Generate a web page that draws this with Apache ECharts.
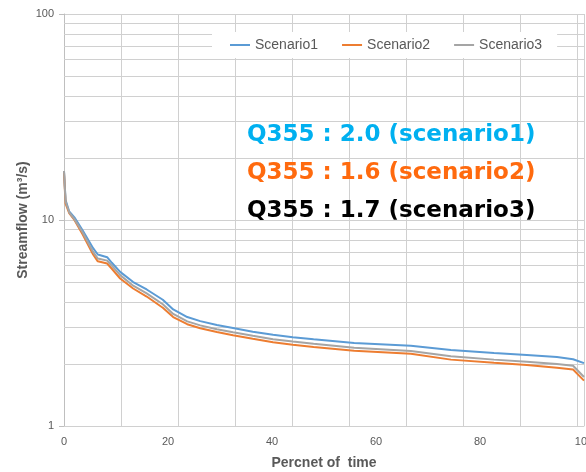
<!DOCTYPE html>
<html><head><meta charset="utf-8">
<script src="https://cdn.jsdelivr.net/npm/echarts@6/dist/echarts.min.js"></script>
<style>html,body{margin:0;padding:0;background:#fff}#c{width:586px;height:472px}</style>
</head><body><div id="c"></div>
<script>
var percent = [0, 0.3, 1, 2, 3.6, 5.6, 6.5, 8.3, 9.2, 10.8, 13.3, 15.9, 19, 21, 23.7, 26.2, 29.4, 32.5, 36.3, 40.2, 44, 48, 55.8, 66.7, 74.4, 82.7, 89, 94.8, 97.9, 100];
var scenario1 = [17.3, 12.5, 11.0, 10.3, 8.9, 7.3, 6.8, 6.6, 6.2, 5.6, 5.0, 4.6, 4.1, 3.68, 3.38, 3.23, 3.09, 2.99, 2.87, 2.77, 2.70, 2.64, 2.53, 2.45, 2.34, 2.26, 2.21, 2.16, 2.11, 2.02];
var scenario2 = [17.0, 12.0, 10.8, 10.0, 8.5, 6.8, 6.3, 6.15, 5.8, 5.2, 4.65, 4.25, 3.75, 3.38, 3.12, 2.98, 2.86, 2.76, 2.65, 2.55, 2.48, 2.42, 2.32, 2.24, 2.10, 2.03, 1.98, 1.92, 1.88, 1.66];
var scenario3 = [17.3, 12.3, 10.9, 10.1, 8.7, 7.0, 6.5, 6.35, 6.0, 5.4, 4.8, 4.4, 3.9, 3.5, 3.22, 3.08, 2.95, 2.85, 2.74, 2.64, 2.57, 2.51, 2.40, 2.31, 2.18, 2.10, 2.05, 2.00, 1.96, 1.73];
var seriesNames = ['Scenario1', 'Scenario2', 'Scenario3'];
var minorY = [2, 3, 4, 5, 6, 7, 8, 9, 20, 30, 40, 50, 60, 70, 80, 90];
var notes = ['Q355 : 2.0 (scenario1)', 'Q355 : 1.6 (scenario2)', 'Q355 : 1.7 (scenario3)'];

function pairs(vals){ return percent.map(function(p,i){ return [p, vals[i]]; }); }

var gridColor = '#d0d0d0';
var noteFont = 'bold 23px "DejaVu Sans"';
var chart = echarts.init(document.getElementById('c'), null, {renderer:'canvas'});
chart.setOption({
  animation: false,
  backgroundColor: '#fff',
  textStyle: {fontFamily: 'Liberation Sans'},
  grid: {left: 64, top: 14, right: 2, bottom: 46, containLabel: false, outerBoundsMode: 'none'},
  legend: {
    data: seriesNames, left: 212, top: 32, backgroundColor: '#fff',
    padding: [6, 15, 6, 18], itemGap: 24, itemWidth: 20, itemHeight: 2, icon: 'rect',
    textStyle: {color: '#595959', fontSize: 14, fontFamily: 'Liberation Sans'}
  },
  xAxis: [{
    type: 'value', min: 0, max: 100, interval: 20,
    name: 'Percnet of  time', nameLocation: 'middle', nameGap: 30,
    nameTextStyle: {color: '#595959', fontSize: 14, fontWeight: 'bold'},
    axisLine: {lineStyle: {color: '#d0d0d0'}}, axisTick: {show: false},
    axisLabel: {color: '#595959', fontSize: 11, margin: 10},
    splitLine: {show: false}
  }, {
    type: 'value', min: 0, max: 100, interval: 100 * 40 / 365, position: 'bottom',
    axisLine: {show: false}, axisTick: {show: false}, axisLabel: {show: false},
    splitLine: {show: true, lineStyle: {color: gridColor, width: 1}}
  }],
  yAxis: {
    type: 'log', logBase: 10, min: 1, max: 100,
    name: 'Streamflow (m³/s)', nameLocation: 'middle', nameGap: 34, nameMoveOverlap: false,
    nameTextStyle: {color: '#595959', fontSize: 14, fontWeight: 'bold'},
    axisLine: {show: true, lineStyle: {color: '#bfbfbf'}},
    axisTick: {show: true, length: 5, lineStyle: {color: '#bfbfbf'}},
    axisLabel: {color: '#595959', fontSize: 11, margin: 10},
    splitLine: {show: true, lineStyle: {color: gridColor, width: 1}}
  },
  series: [
    {name: seriesNames[0], type: 'line', data: pairs(scenario1), showSymbol: false, z: 3,
      lineStyle: {width: 2, color: '#5B9BD5'}, itemStyle: {color: '#5B9BD5'},
      markLine: {silent: true, z: 1, symbol: ['none', 'none'], label: {show: false},
        lineStyle: {color: gridColor, type: 'solid', width: 1},
        emphasis: {disabled: true},
        data: minorY.map(function(v){ return {yAxis: v}; })}},
    {name: seriesNames[1], type: 'line', data: pairs(scenario2), showSymbol: false, z: 3,
      lineStyle: {width: 2, color: '#ED7D31'}, itemStyle: {color: '#ED7D31'}},
    {name: seriesNames[2], type: 'line', data: pairs(scenario3), showSymbol: false, z: 3,
      lineStyle: {width: 2, color: '#A5A5A5'}, itemStyle: {color: '#A5A5A5'}}
  ],
  graphic: [
    {type: 'text', left: 247, top: 124, z: 10, style: {text: notes[0], fill: '#00B0F0', font: noteFont}},
    {type: 'text', left: 247, top: 162, z: 10, style: {text: notes[1], fill: '#FF6A0E', font: noteFont}},
    {type: 'text', left: 247, top: 200, z: 10, style: {text: notes[2], fill: '#000000', font: noteFont}}
  ]
});
</script></body></html>
